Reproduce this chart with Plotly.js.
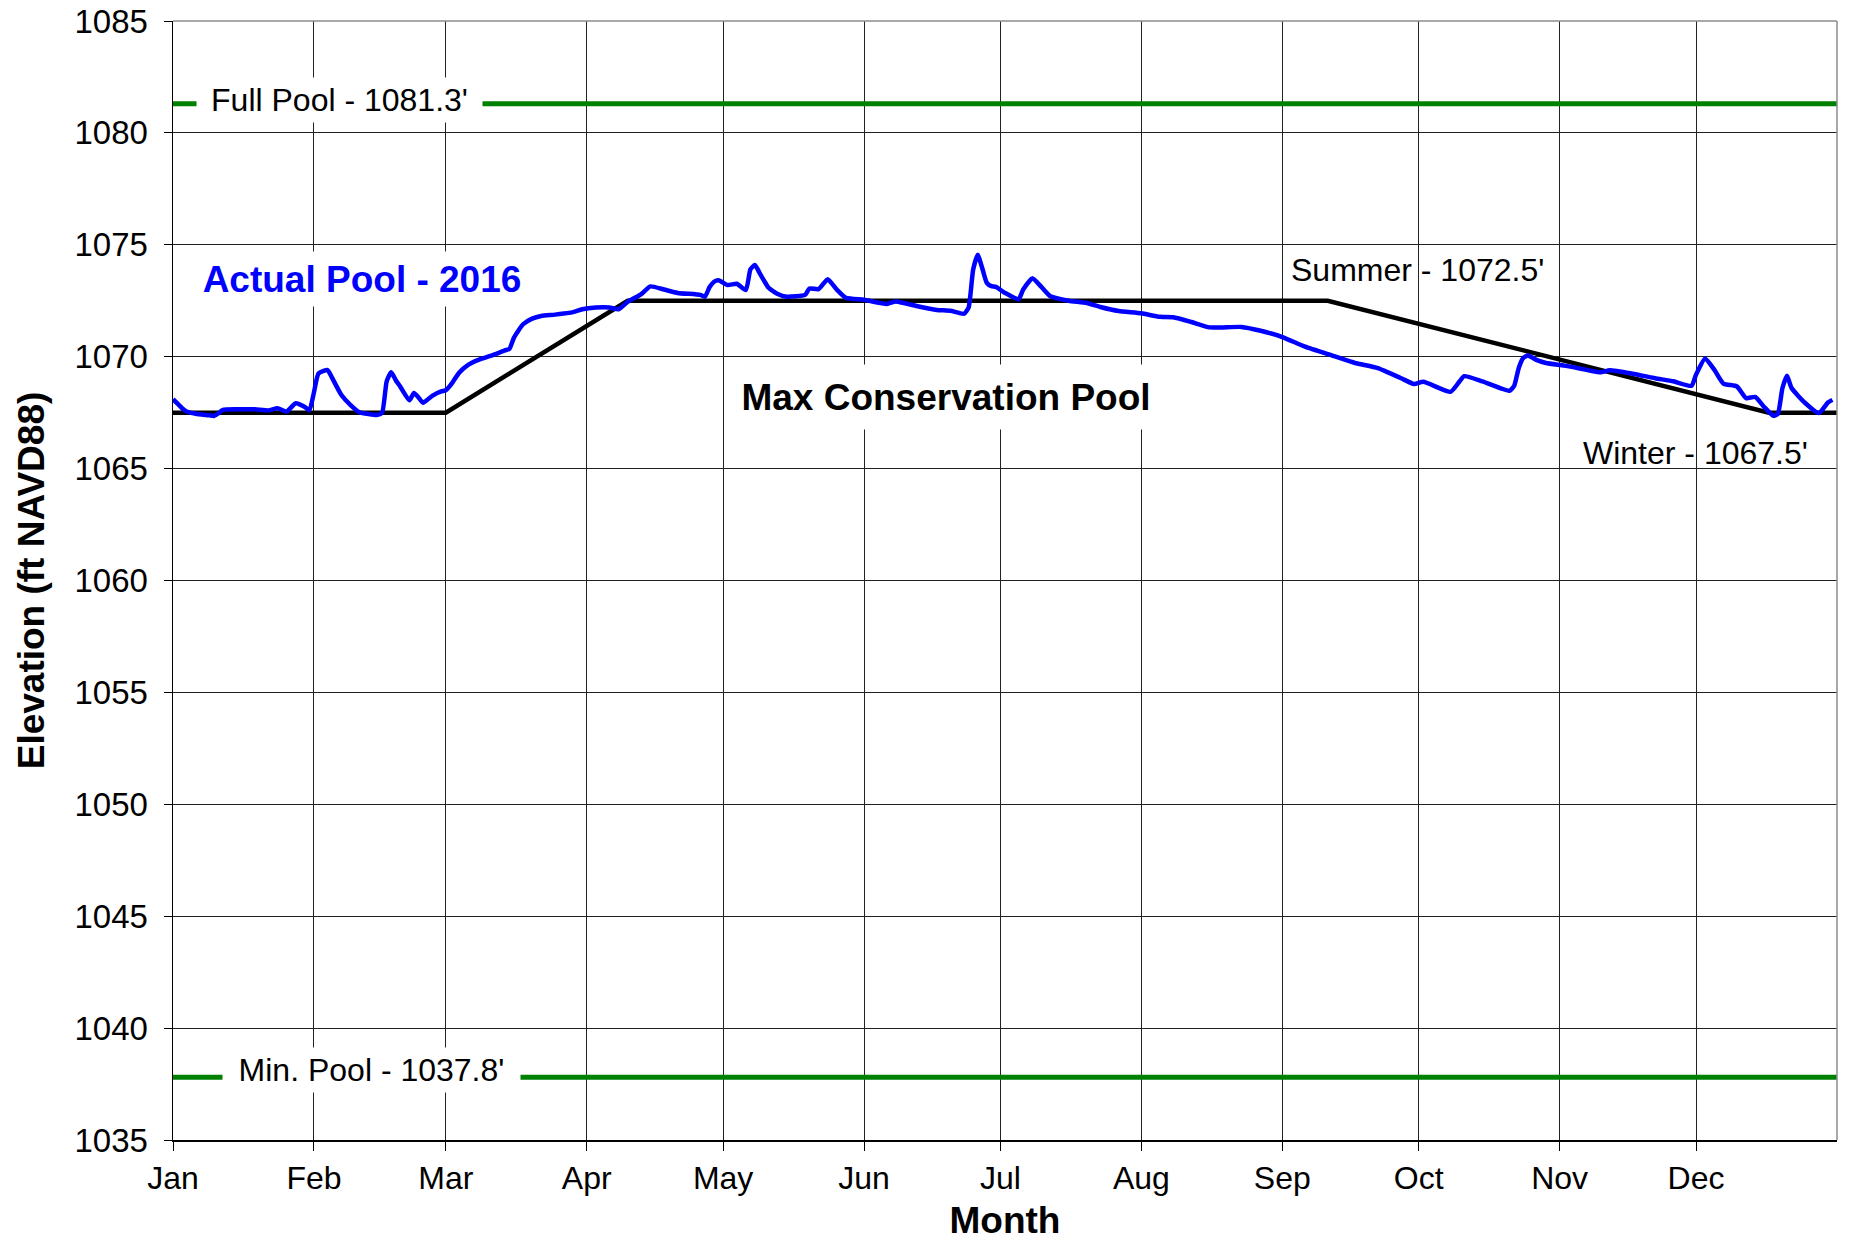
<!DOCTYPE html>
<html>
<head>
<meta charset="utf-8">
<script src="https://cdn.plot.ly/plotly-3.0.1.min.js"></script>
<style>
  html, body { margin: 0; padding: 0; background: #fff; }
  #chart { width: 1849px; height: 1241px; }
</style>
</head>
<body>
<div id="chart"></div>
<script>
// ---- Data ----
// Tick labels (month starts of 2016)
const monthTickDates = ['2016-01-01','2016-02-01','2016-03-01','2016-04-01','2016-05-01','2016-06-01',
                        '2016-07-01','2016-08-01','2016-09-01','2016-10-01','2016-11-01','2016-12-01'];
const monthTickLabels = ['Jan','Feb','Mar','Apr','May','Jun','Jul','Aug','Sep','Oct','Nov','Dec'];

// Max conservation pool (rule curve)
const ruleDates = ['2016-01-01','2016-03-01','2016-04-10','2016-09-11','2016-12-17','2017-01-01'];
const ruleElev  = [1067.5, 1067.5, 1072.5, 1072.5, 1067.5, 1067.5];

// Reference pool levels
const fullPoolElev = 1081.3;
const minPoolElev  = 1037.8;
const spanDates = ['2016-01-01','2017-01-01'];

// Actual pool 2016 (day of year, 0 = Jan 1) and elevation (ft NAVD88)
const poolDay = [0,1,2,3,5,8,9,10,11,14,18,21,23,25,27,29,30,31,32,34,35,37,39,41,43,45,46,47,48,49,50,
  52,53,54,55,57,59,60,61,63,65,67,70,73,74,75,77,79,81,84,88,90,93,96,98,100,103,105,108,111,116,117,118,
  119,120,122,124,126,127,128,129,130,131,133,135,139,140,142,144,146,148,152,157,159,164,168,171,174,175,
  176,177,178,179,180,181,183,186,187,189,191,193,197,201,204,208,213,217,220,224,228,235,239,244,249,255,
  260,265,270,273,275,281,283,284,288,294,295,296,297,298,300,302,306,310,314,316,321,326,330,334,335,337,
  339,341,344,346,348,350,352,353,354,355,356,359,362,364,365];
const poolElev = [1068.1,1067.9,1067.7,1067.55,1067.45,1067.38,1067.35,1067.47,1067.62,1067.65,1067.65,1067.6,
  1067.7,1067.55,1067.92,1067.75,1067.6,1068.4,1069.25,1069.4,1069.05,1068.3,1067.85,1067.52,1067.44,1067.4,
  1067.5,1068.9,1069.3,1068.95,1068.66,1068.05,1068.38,1068.18,1067.94,1068.25,1068.45,1068.5,1068.72,1069.3,
  1069.65,1069.85,1070.05,1070.28,1070.35,1070.85,1071.45,1071.7,1071.82,1071.88,1071.99,1072.12,1072.2,1072.2,
  1072.12,1072.45,1072.8,1073.14,1073.0,1072.85,1072.76,1072.68,1073.1,1073.35,1073.42,1073.2,1073.26,1072.98,
  1073.9,1074.1,1073.75,1073.4,1073.08,1072.8,1072.68,1072.76,1073.05,1073.02,1073.46,1073.0,1072.63,1072.54,
  1072.36,1072.47,1072.24,1072.09,1072.05,1071.92,1072.2,1073.9,1074.55,1073.95,1073.3,1073.15,1073.12,1072.85,
  1072.57,1073.0,1073.5,1073.12,1072.7,1072.5,1072.4,1072.22,1072.04,1071.94,1071.78,1071.76,1071.55,1071.31,
  1071.33,1071.17,1070.88,1070.45,1070.05,1069.72,1069.49,1069.05,1068.78,1068.88,1068.43,1068.9,1069.13,
  1068.9,1068.48,1068.7,1069.5,1069.95,1070.05,1069.85,1069.72,1069.6,1069.45,1069.3,1069.39,1069.24,1069.04,
  1068.9,1068.7,1069.2,1069.92,1069.42,1068.8,1068.67,1068.15,1068.2,1067.75,1067.36,1067.45,1068.6,1069.15,
  1068.6,1067.93,1067.48,1067.95,1068.07];

// ---- Build ----
const dayToDate = d => new Date(Date.UTC(2016, 0, 1) + d * 86400000).toISOString().slice(0, 10);
const poolDates = poolDay.map(dayToDate);

const FONT = 'Liberation Sans, Arial, Helvetica, sans-serif';
const GREEN = '#008000';

const traces = [
  { x: spanDates, y: [fullPoolElev, fullPoolElev], mode: 'lines', line: { color: GREEN, width: 5 }, hoverinfo: 'skip' },
  { x: spanDates, y: [minPoolElev, minPoolElev], mode: 'lines', line: { color: GREEN, width: 5 }, hoverinfo: 'skip' },
  { x: ruleDates, y: ruleElev, mode: 'lines', line: { color: '#000000', width: 4.5 }, name: 'Max Conservation Pool' },
  { x: poolDates, y: poolElev, mode: 'lines', line: { color: '#0000FF', width: 4.5, shape: 'spline', smoothing: 0.5 }, name: 'Actual Pool - 2016' }
];

const annFont = { family: FONT, size: 32, color: '#000' };
const annotations = [
  { xref: 'paper', yref: 'y', x: 0.1000, y: fullPoolElev, yshift: 4, text: "Full Pool - 1081.3'", showarrow: false,
    font: annFont, bgcolor: '#fff', width: 283, height: 42, xanchor: 'center', yanchor: 'middle' },
  { xref: 'paper', yref: 'y', x: 0.1193, y: minPoolElev, yshift: 7, text: "Min. Pool - 1037.8'", showarrow: false,
    font: annFont, bgcolor: '#fff', width: 295, height: 42, xanchor: 'center', yanchor: 'middle' },
  { xref: 'paper', yref: 'y', x: 0.748, y: 1073.88, text: "Summer - 1072.5'", showarrow: false,
    font: annFont, xanchor: 'center', yanchor: 'middle' },
  { xref: 'paper', yref: 'y', x: 0.9147, y: 1065.71, text: "Winter - 1067.5'", showarrow: false,
    font: annFont, xanchor: 'center', yanchor: 'middle' },
  { xref: 'paper', yref: 'y', x: 0.4645, y: 1068.2, text: '<b>Max Conservation Pool</b>', showarrow: false,
    font: { family: FONT, size: 37, color: '#000' }, bgcolor: '#fff', width: 440, height: 62,
    xanchor: 'center', yanchor: 'middle' },
  { xref: 'paper', yref: 'y', x: 0.1136, y: 1073.46, text: '<b>Actual Pool - 2016</b>', showarrow: false,
    font: { family: FONT, size: 37, color: '#0000FF' }, bgcolor: '#fff', width: 340, height: 52,
    xanchor: 'center', yanchor: 'middle' }
];

const shapes = [
  { type: 'line', xref: 'paper', yref: 'paper', x0: 0, x1: 1, y0: 1, y1: 1, line: { color: '#8c8c8c', width: 1.5 } },
  { type: 'line', xref: 'paper', yref: 'paper', x0: 1, x1: 1, y0: 0, y1: 1, line: { color: '#8c8c8c', width: 1.5 } }
];

const layout = {
  width: 1849, height: 1241,
  margin: { l: 173, r: 12, t: 21, b: 101, pad: 0 },
  paper_bgcolor: '#fff', plot_bgcolor: '#fff',
  showlegend: false,
  font: { family: FONT, color: '#000' },
  xaxis: {
    type: 'date',
    range: ['2016-01-01', '2017-01-01'],
    tickmode: 'array', tickvals: monthTickDates, ticktext: monthTickLabels,
    tickfont: { family: FONT, size: 32, color: '#000' },
    ticks: 'outside', ticklen: 9, tickcolor: '#000', tickwidth: 1,
    showgrid: true, gridcolor: '#222', gridwidth: 1,
    showline: true, linecolor: '#000', linewidth: 2,
    zeroline: false,
    title: { text: '<b>Month</b>', font: { family: FONT, size: 37, color: '#000' }, standoff: 13 }
  },
  yaxis: {
    range: [1035, 1085], dtick: 5, tick0: 1035,
    tickfont: { family: FONT, size: 33, color: '#000' },
    ticks: 'outside', ticklen: 8, tickcolor: '#000', tickwidth: 1, ticklabelstandoff: 9,
    showgrid: true, gridcolor: '#222', gridwidth: 1,
    showline: true, linecolor: '#000', linewidth: 1.5,
    zeroline: false,
    title: { text: '<b>Elevation (ft NAVD88)</b>', font: { family: FONT, size: 37, color: '#000' }, standoff: 18 }
  },
  annotations: annotations,
  shapes: shapes
};

Plotly.newPlot('chart', traces, layout, { displayModeBar: false, staticPlot: true });
</script>
</body>
</html>
